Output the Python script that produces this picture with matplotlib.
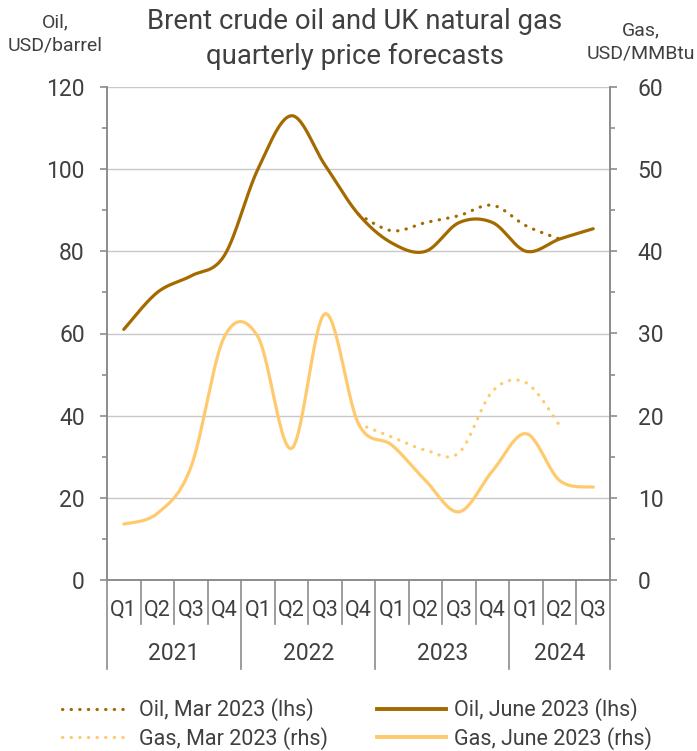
import numpy as np
import matplotlib
matplotlib.use("Agg")
import matplotlib.pyplot as plt
from matplotlib.lines import Line2D
import matplotlib.transforms as mtransforms

# ---- data ----
quarters = ["Q1", "Q2", "Q3", "Q4"] * 3 + ["Q1", "Q2", "Q3"]
years = ["2021", "2022", "2023", "2024"]
year_counts = [4, 4, 4, 3]

oil_june = [61, 70, 74, 79, 100, 113, 101, 89, 82, 80, 87, 87, 80, 83, 85.5]
gas_june = [6.8, 8.1, 13.7, 29.6, 29.6, 16, 32.4, 19, 16.4, 12.1, 8.3, 13.3, 17.8, 12.1, 11.3]
# March 2023 forecasts, starting Q4 2022 (index 7) to Q2 2024 (index 13)
mar_start = 7
oil_mar = [89, 85, 87, 88.7, 91.2, 86.2, 83]
gas_mar = [19, 17.4, 15.8, 15.5, 23, 24, 18.8]

title = "Brent crude oil and UK natural gas\nquarterly price forecasts"
OIL = "#A46A00"
GAS = "#FFCA6E"
TXT = "#404040"
AXC = "#8C8C8C"
GRID = "#C8C8C8"

plt.rcParams['font.family'] = ['Roboto', 'DejaVu Sans']


def smooth(x, y, n=30):
    x = np.asarray(x, float)
    y = np.asarray(y, float)
    P = np.column_stack([x, y])
    out = [P[0]]
    for i in range(len(P) - 1):
        p0 = P[i - 1] if i > 0 else P[i]
        p1 = P[i]
        p2 = P[i + 1]
        p3 = P[i + 2] if i + 2 < len(P) else P[i + 1]
        c1 = p1 + (p2 - p0) / 6.0
        c2 = p2 - (p3 - p1) / 6.0
        t = np.linspace(0, 1, n)[1:, None]
        seg = ((1 - t) ** 3) * p1 + 3 * ((1 - t) ** 2) * t * c1 + 3 * (1 - t) * t ** 2 * c2 + t ** 3 * p2
        out.extend(seg)
    out = np.array(out)
    return out[:, 0], out[:, 1]


W, H = 697, 751
fig = plt.figure(figsize=(W / 100, H / 100), dpi=100)
left, right, top, bottom = 107, 610, 87, 580
ax = fig.add_axes([left / W, 1 - bottom / H, (right - left) / W, (bottom - top) / H])
ax2 = ax.twinx()

n = len(quarters)
xs = np.arange(n)
ax.set_xlim(-0.5, n - 0.5)
ax.set_ylim(0, 120)
ax2.set_ylim(0, 60)

# grid
ax.set_yticks(np.arange(0, 121, 20))
ax.set_yticks(np.arange(0, 121, 10), minor=True)
ax2.set_yticks(np.arange(0, 61, 10))
ax2.set_yticks(np.arange(0, 61, 5), minor=True)
ax.yaxis.grid(True, which='major', color=GRID, linewidth=1.0)
ax.set_axisbelow(True)
ax.set_xticks([])

for a in (ax, ax2):
    for s in ['top']:
        a.spines[s].set_visible(False)
    for s in ['left', 'right', 'bottom']:
        a.spines[s].set_color(AXC)
        a.spines[s].set_linewidth(1.2)
    a.tick_params(axis='y', which='major', length=5, width=1.2, color=AXC,
                  labelcolor=TXT, labelsize=16.5)
    a.tick_params(axis='y', which='minor', length=3.5, width=1.2, color=AXC)
ax.tick_params(axis='y', pad=11)
ax2.tick_params(axis='y', pad=15)
ax2.set_xticks([])

lw = 2.3
# lines
sx, sy = smooth(xs[mar_start:mar_start + len(oil_mar)], oil_mar)
ax.plot(sx, sy, color=OIL, lw=lw, linestyle=(0, (0.1, 2.6)), dash_capstyle='round', zorder=3)
sx, sy = smooth(xs, oil_june)
ax.plot(sx, sy, color=OIL, lw=lw, solid_capstyle='round', zorder=4)
sx, sy = smooth(xs[mar_start:mar_start + len(gas_mar)], gas_mar)
ax2.plot(sx, sy, color=GAS, lw=lw, linestyle=(0, (0.1, 2.6)), dash_capstyle='round', zorder=3)
sx, sy = smooth(xs, gas_june)
ax2.plot(sx, sy, color=GAS, lw=lw, solid_capstyle='round', zorder=4)

# category axis
trans = mtransforms.blended_transform_factory(ax.transData, ax.transAxes)
axh = bottom - top
q_end = -44 / axh
y_end = -89 / axh
year_bounds = np.concatenate([[0], np.cumsum(year_counts)])
for b in range(n + 1):
    xb = b - 0.5
    ye = y_end if b in year_bounds else q_end
    ax.plot([xb, xb], [0, ye], transform=trans, color=AXC, lw=1.2, clip_on=False)
for i, q in enumerate(quarters):
    ax.text(i, -30 / axh, q, transform=trans, ha='center', va='center', fontsize=15.5, color=TXT)
for k, yr in enumerate(years):
    c = (year_bounds[k] + year_bounds[k + 1] - 1) / 2
    ax.text(c, -74 / axh, yr, transform=trans, ha='center', va='center', fontsize=16.5, color=TXT)

# titles and axis labels
fig.text(355 / W, 1 - 39 / H, title, ha='center', va='center', fontsize=19.8, color=TXT,
         linespacing=1.35)
fig.text(55 / W, 1 - 34 / H, "Oil,\nUSD/barrel", ha='center', va='center', fontsize=14,
         color=TXT, linespacing=1.4)
fig.text(641 / W, 1 - 42 / H, "Gas,\nUSD/MMBtu", ha='center', va='center', fontsize=14,
         color=TXT, linespacing=1.4)

# legend
handles = [
    Line2D([], [], color=OIL, lw=lw, linestyle=(0, (0.1, 2.6)), dash_capstyle='round'),
    Line2D([], [], color=GAS, lw=lw, linestyle=(0, (0.1, 2.6)), dash_capstyle='round'),
    Line2D([], [], color=OIL, lw=lw + 0.5),
    Line2D([], [], color=GAS, lw=lw + 0.5),
]
labels = ["Oil, Mar 2023 (lhs)", "Gas, Mar 2023 (rhs)", "Oil, June 2023 (lhs)", "Gas, June 2023 (rhs)"]
leg = fig.legend(handles, labels, ncol=2, loc='center', bbox_to_anchor=(357 / W, 1 - 724 / H),
                 frameon=False, fontsize=15.5, handlelength=3.2, handletextpad=0.35,
                 columnspacing=2.3, labelspacing=0.25, labelcolor=TXT, borderpad=0.2)

fig.savefig("out.png", dpi=100)
